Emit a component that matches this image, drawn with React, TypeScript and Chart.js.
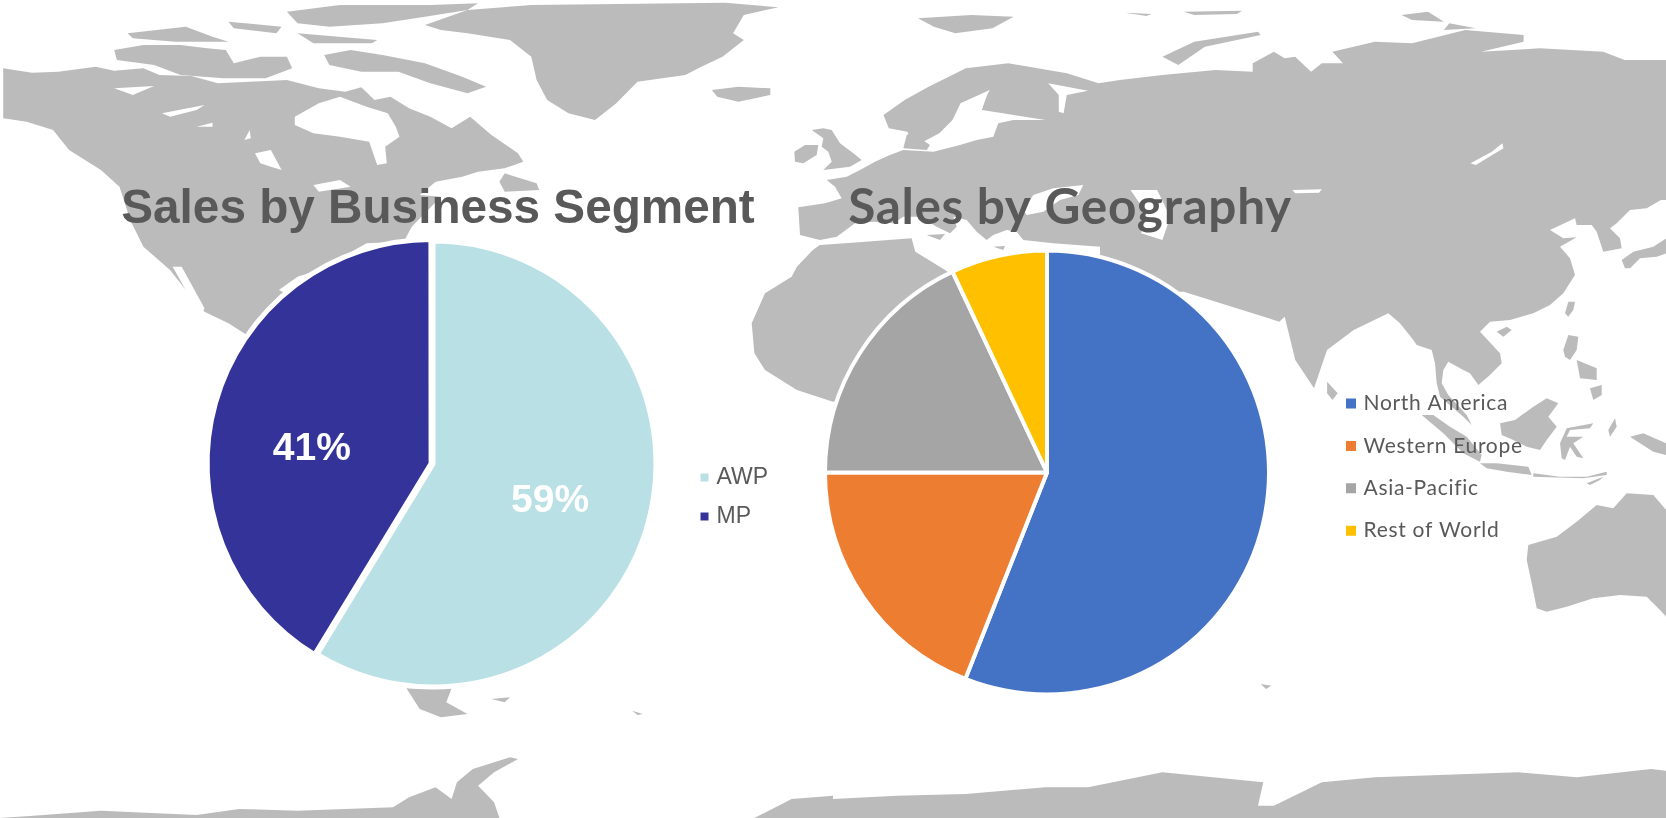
import React, { useEffect, useRef } from "react";
import { Chart, registerables } from "chart.js";

Chart.register(...registerables);

// ---------- chart data ----------
const segmentLabels = ["AWP", "MP"];
const segmentValues = [58.7, 41.3];
const segmentColors = ["#B9E0E4", "#333399"];
const segmentOffsets = [0, 8];
const segmentLabelNudges = [[-1, 4], [-3, 18]];

const geographyLabels = ["North America", "Western Europe", "Asia-Pacific", "Rest of World"];
const geographyValues = [56, 19, 18, 7];
const geographyColors = ["#4472C4", "#ED7D31", "#A5A5A5", "#FFC000"];

// ---------- background map, traced in the crop spaces of the picture ----------
type Space = { ox: number; oy: number; sx: number; sy: number };
const Z1: Space = { ox: 0, oy: 0, sx: 833 / 1568, sy: 1 / 3 };
const Z2: Space = { ox: 833, oy: 0, sx: 833 / 1568, sy: 1 / 3 };
const Z3: Space = { ox: 0, oy: 409, sx: 833 / 1568, sy: 1 / 3 };
const Z4: Space = { ox: 833, oy: 409, sx: 833 / 1568, sy: 1 / 3 };
const Z7: Space = { ox: 1400, oy: 150, sx: 1 / 3, sy: 1 / 3 };
const Z8: Space = { ox: 1400, oy: 340, sx: 1 / 3, sy: 1 / 3 };
const Z9: Space = { ox: 760, oy: 120, sx: 1 / 3, sy: 1 / 3 };

const landShapes: [Space, number[]][] = [
  // North America
  [Z1, [6,205,60,218,110,215,180,200,215,212,270,205,300,225,360,228,410,250,470,245,540,240,600,265,650,275,680,262,705,300,735,290,770,325,810,350,850,385,885,350,925,405,975,460,985,485,950,505,900,515,870,530,820,545,790,585,830,590,775,680,760,725,690,730,600,810,560,830,525,870,700,1000,470,1010,430,970,385,935,345,860,320,810,270,740,245,660,225,560,190,510,130,450,100,390,50,365,6,355]],
  [Z1, [950,520,1010,550,1015,570,950,575,940,545]],
  // Arctic islands
  [Z1, [610,165,660,150,720,165,800,190,870,230,915,260,880,280,810,250,750,215,680,215,620,195]],
  [Z1, [215,150,270,135,340,135,390,145,425,150,440,190,490,170,540,170,550,205,500,235,420,235,340,225,290,195,220,180]],
  [Z1, [540,35,640,15,810,15,900,10,880,30,800,50,720,70,620,80,560,70]],
  [Z1, [560,100,710,120,700,130,590,130]],
  [Z1, [240,100,350,80,400,110,430,125,330,125,250,115]],
  [Z1, [430,65,530,80,520,100,440,85]],
  // Greenland, Iceland
  [Z1, [800,75,880,30,1000,15,1365,8,1465,22,1400,45,1380,100,1400,120,1360,170,1320,200,1290,225,1200,245,1160,310,1120,360,1070,340,1030,300,1010,240,1000,170,960,120,880,100,830,90]],
  [Z1, [1340,270,1390,260,1450,265,1450,285,1390,305,1350,290]],
  // British Isles
  [Z9, [103,95,135,75,175,75,170,105,130,130,105,125]],
  [Z9, [155,30,190,25,215,30,240,70,280,100,305,120,270,140,190,150,215,125,205,95,185,80,190,55]],
  // Europe and Near East
  [Z9, [115,262,195,250,245,235,225,200,200,180,260,170,300,150,345,125,390,105,430,90,520,95,600,75,650,60,700,50,715,10,760,0,1020,0,1020,380,880,370,790,360,770,335,740,330,700,345,680,360,650,335,620,300,580,290,590,320,570,340,530,320,480,290,430,290,400,310,340,305,285,310,230,350,180,360,120,345]],
  [Z9, [430,85,440,45,470,30,480,55,510,75,500,90]],
  [Z9, [500,345,555,342,540,360]],
  [Z9, [700,380,735,378,730,390]],
  // Africa
  [Z1, [1543,735,1530,750,1500,800,1490,830,1440,880,1415,970,1420,1060,1440,1110,1500,1170,1568,1205,1850,1100,1850,900,1779,810,1723,755,1716,715,1591,730]],
  // Northern Eurasia
  [Z2, [95,345,135,300,180,260,250,205,330,190,440,220,500,250,540,240,620,225,720,210,790,215,790,190,830,155,850,175,870,170,900,215,920,190,960,190,940,155,1020,125,1090,130,1190,90,1300,105,1300,125,1220,155,1330,145,1450,155,1490,180,1568,180,1568,600,502,600,502,400,400,360,340,345,320,340,280,330,290,285,295,270,240,310,225,360,200,400,170,425,150,430,140,395,105,385]],
  // East and South Asia
  [Z7, [799,0,799,140,740,175,690,180,650,220,630,235,660,265,665,295,610,305,590,245,575,225,530,225,525,205,450,240,490,265,530,262,480,290,510,325,525,375,490,430,450,465,400,490,330,510,270,515,240,545,300,610,305,640,270,675,235,705,210,670,190,660,145,635,130,660,125,700,145,735,200,795,215,825,190,800,120,740,110,700,105,640,95,600,50,585,40,570,0,520,-35,490,-139,540,-219,600,-258,715,-314,630,-346,500,-362,515,-649,425,-900,425,-900,0]],
  // Arctic Russia
  [Z2, [160,55,260,45,340,50,300,85,230,100,190,80]],
  [Z2, [620,170,680,125,800,95,805,105,700,140,650,195]],
  [Z2, [1070,45,1120,35,1150,65,1090,60]],
  [Z2, [1160,70,1210,85,1150,90]],
  [Z2, [550,38,600,42,590,48]],
  [Z2, [660,35,770,32,760,42,680,45]],
  [Z2, [930,1145,950,1180,940,1200,930,1180]],
  // East Asian and Pacific islands
  [Z7, [495,490,505,455,525,455,520,480,505,500]],
  [Z7, [290,545,320,530,335,540,310,560]],
  [Z7, [665,330,700,305,760,290,799,265,799,310,770,320,720,325,690,355,675,355]],
  [Z7, [490,600,505,555,535,560,530,600,510,630,495,620]],
  [Z8, [570,145,605,135,605,165,580,180]],
  [Z8, [530,60,590,85,590,120,540,115]],
  [Z8, [65,225,100,225,150,260,200,290,245,345,240,365,190,340,130,280]],
  [Z8, [240,370,290,370,385,380,395,405,320,395,260,385]],
  [Z8, [400,400,480,410,560,410,620,395,620,405,550,415,400,410]],
  [Z8, [560,430,610,410,600,420,570,435]],
  [Z8, [300,250,345,240,400,200,440,175,475,190,445,230,470,260,440,300,420,330,380,320,340,300,305,285]],
  [Z8, [480,310,500,265,580,250,570,265,510,270,500,290,550,290,520,310,550,355,530,350,510,320,495,360,485,355]],
  [Z8, [690,290,730,280,799,310,799,345,760,335,720,310]],
  [Z8, [625,270,645,235,650,260,630,290]],
  // Australia
  [Z8, [385,615,470,590,530,545,590,495,640,505,680,460,760,465,799,510,799,830,780,810,740,770,660,765,580,775,500,800,440,815,410,805,395,730,380,660]],
  // South America's tip and the far south
  [Z3, [765,838,850,838,840,880,880,915,830,925,790,900]],
  [Z3, [925,870,960,865,950,880]],
  [Z3, [1190,905,1210,915,1200,918]],
  [Z3, [0,1227,50,1222,190,1205,370,1218,450,1200,560,1205,740,1195,770,1165,820,1135,850,1170,860,1120,890,1080,960,1045,975,1050,930,1090,900,1130,930,1180,940,1227]],
  [Z3, [1420,1227,1490,1170,1568,1160,1568,1227]],
  [Z4, [0,1170,120,1160,250,1155,400,1135,480,1135,620,1090,810,1120,800,1190,830,1190,920,1120,1020,1105,1290,1090,1400,1105,1540,1080,1568,1085,1568,1227,0,1227]],
  [Z4, [805,825,825,830,815,840]],
];

const waterShapes: [Space, number[]][] = [
  [Z1, [555,350,600,310,640,290,690,320,730,340,745,380,752,410,725,440,728,490,710,495,695,425,640,410,590,400,555,375]],
  [Z1, [305,340,385,315,370,330,320,350]],
  [Z1, [370,380,400,368,400,380]],
  [Z1, [460,420,470,390,472,415]],
  [Z1, [215,265,290,258,250,285]],
  [Z1, [480,460,510,450,530,510,510,500,490,490]],
  [Z1, [590,555,640,540,660,560,600,575]],
  [Z1, [325,800,342,800,385,925,380,940,360,900]],
  [Z2, [405,250,480,272,440,285,434,340,425,335,425,285]],
  [Z2, [560,570,610,570,635,650,620,720,580,700,590,640]],
  [Z2, [865,570,920,568,915,578,870,580]],
  [Z2, [1260,430,1262,445,1210,495,1200,490,1240,455]],
  [Z9, [820,225,880,205,970,195,955,225,900,240,850,275,800,285,790,270]],
];

const LAND = "#BBBBBB";
const toPath = ([s, pts]: [Space, number[]]) => {
  let d = "";
  for (let i = 0; i < pts.length; i += 2) {
    const x = s.ox + pts[i] * s.sx;
    const y = s.oy + pts[i + 1] * s.sy;
    d += (i === 0 ? "M" : "L") + x.toFixed(1) + " " + y.toFixed(1);
  }
  return d + "Z";
};

// ---------- plugins ----------
const percentLabels = {
  id: "percentLabels",
  afterDatasetsDraw(chart: any, _a: any, opts: any) {
    if (!opts.show) return;
    const { ctx } = chart;
    const meta = chart.getDatasetMeta(0);
    const data = chart.data.datasets[0].data as number[];
    ctx.save();
    ctx.fillStyle = "#FFFFFF";
    ctx.font = opts.font;
    ctx.textAlign = "center";
    ctx.textBaseline = "middle";
    meta.data.forEach((arc: any, i: number) => {
      const mid = (arc.startAngle + arc.endAngle) / 2;
      const r = arc.outerRadius * opts.radial;
      const n = opts.nudges[i];
      ctx.fillText(Math.round(data[i]) + "%", arc.x + Math.cos(mid) * r + n[0], arc.y + Math.sin(mid) * r + n[1]);
    });
    ctx.restore();
  },
};

const boxPlacer = {
  id: "boxPlacer",
  beforeDraw(chart: any, _a: any, opts: any) {
    const lg = chart.legend;
    if (lg) {
      lg.left = opts.x;
      lg.top = opts.y;
      lg.right = chart.width;
      lg.bottom = chart.height + 400;
      lg.width = chart.width - opts.x;
    }
    const t = chart.titleBlock;
    if (t) {
      t.left = 0;
      t.right = chart.width;
      t.width = chart.width;
    }
    if (opts.letterSpacing) chart.ctx.letterSpacing = opts.letterSpacing;
  },
};

function usePie(ref: React.RefObject<HTMLCanvasElement | null>, build: () => any) {
  useEffect(() => {
    const c = new Chart(ref.current as HTMLCanvasElement, build());
    return () => c.destroy();
  }, []);
}

const legendItems = (stroke: number) => (chart: any) =>
  chart.data.labels.map((text: string, i: number) => {
    const color = chart.data.datasets[0].backgroundColor[i];
    return { text, fillStyle: color, strokeStyle: color, lineWidth: stroke, fontColor: "#595959", index: i, hidden: false };
  });

export default function App() {
  const a = useRef<HTMLCanvasElement>(null);
  const b = useRef<HTMLCanvasElement>(null);

  usePie(a, () => ({
    type: "pie",
    data: {
      labels: segmentLabels,
      datasets: [{
        data: segmentValues,
        backgroundColor: segmentColors,
        borderColor: "#FFFFFF",
        borderWidth: 5,
        offset: segmentOffsets,
        hoverOffset: 0,
        radius: 223,
        clip: false,
      }],
    },
    plugins: [percentLabels, boxPlacer],
    options: {
      animation: false,
      responsive: false,
      events: [],
      layout: { padding: { left: 111, right: 121, top: 0, bottom: 45.24 } },
      plugins: {
        tooltip: { enabled: false },
        title: {
          display: true,
          text: "Sales by Business Segment",
          color: "#595959",
          font: { family: "'Liberation Sans'", size: 47.7, weight: "bold", lineHeight: 1.2 },
          padding: { top: 11, bottom: 5 },
        },
        legend: {
          position: "chartArea",
          align: "start",
          labels: {
            font: { family: "'Liberation Sans'", size: 23 },
            color: "#595959",
            boxWidth: 1,
            boxHeight: 1,
            padding: 16,
            generateLabels: legendItems(7),
          },
        },
        percentLabels: { show: true, font: "bold 39px 'Liberation Sans'", radial: 0.55, nudges: segmentLabelNudges },
        boxPlacer: { x: 588, y: 280 },
      },
    },
  }));

  usePie(b, () => ({
    type: "pie",
    data: {
      labels: geographyLabels,
      datasets: [{
        data: geographyValues,
        backgroundColor: geographyColors,
        borderColor: "#FFFFFF",
        borderWidth: 4,
        hoverOffset: 0,
        radius: 222,
        clip: false,
      }],
    },
    plugins: [boxPlacer],
    options: {
      animation: false,
      responsive: false,
      events: [],
      layout: { padding: { left: 213, right: 259, top: 0, bottom: 30.4 } },
      plugins: {
        tooltip: { enabled: false },
        title: {
          display: true,
          text: "Sales by Geography",
          color: "#595959",
          font: { family: "Lato", size: 49.5, weight: "bold", lineHeight: 1.2 },
          padding: { top: 8, bottom: 8 },
        },
        legend: {
          position: "chartArea",
          align: "start",
          labels: {
            font: { family: "Lato", size: 21 },
            color: "#595959",
            boxWidth: 4,
            boxHeight: 4,
            padding: 21.4,
            generateLabels: legendItems(6),
          },
        },
        boxPlacer: { x: 717.6, y: 201.6, letterSpacing: "0.7px" },
      },
    },
  }));

  const box: React.CSSProperties = { position: "absolute" };
  return (
    <div style={{ position: "absolute", left: 0, top: 0, width: 1666, height: 818, overflow: "hidden", background: "#FFFFFF" }}>
      <svg width={1666} height={818} style={{ ...box, left: 0, top: 0, filter: "blur(0.7px)" }}>
        {landShapes.map((s, i) => <path key={"l" + i} d={toPath(s)} fill={LAND} />)}
        {waterShapes.map((s, i) => <path key={"w" + i} d={toPath(s)} fill="#FFFFFF" />)}
      </svg>
      <canvas ref={a} width={676} height={560} style={{ ...box, left: 100, top: 170, width: 676, height: 560 }} />
      <canvas ref={b} width={920} height={560} style={{ ...box, left: 610, top: 170, width: 920, height: 560 }} />
    </div>
  );
}
